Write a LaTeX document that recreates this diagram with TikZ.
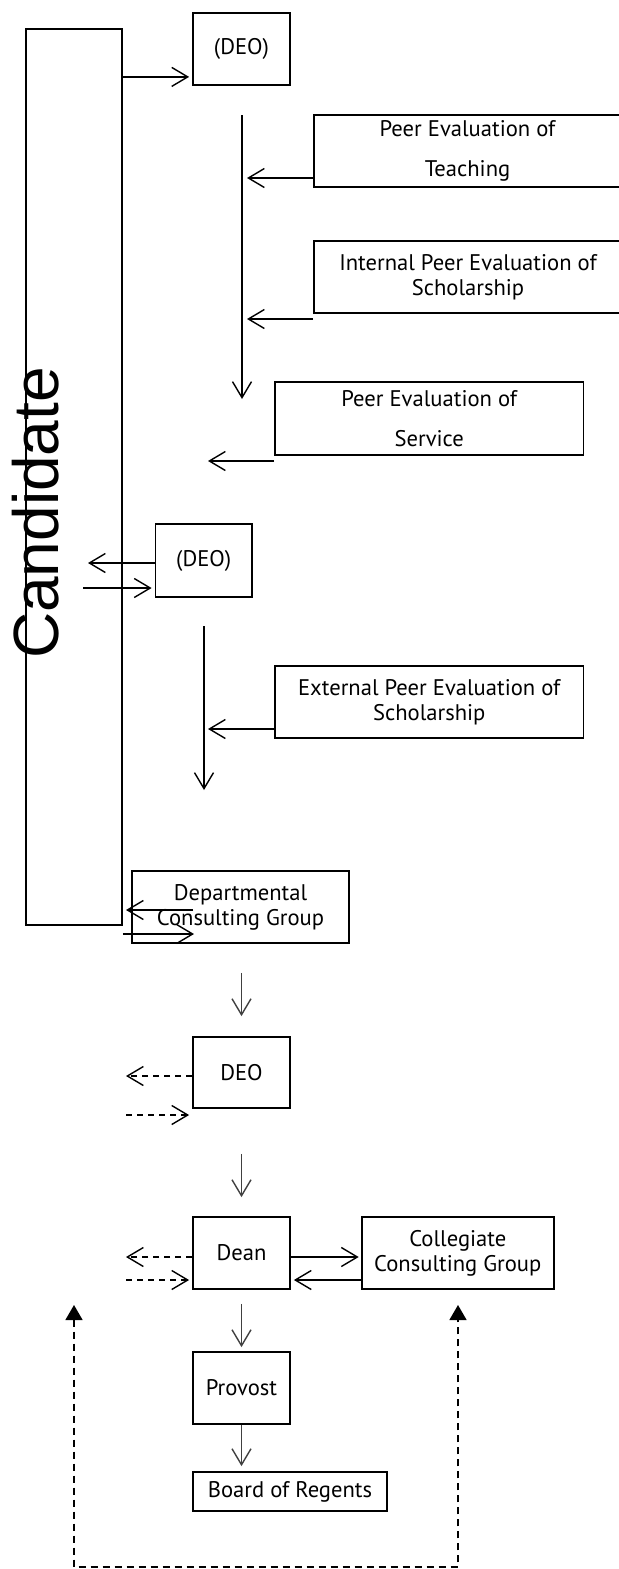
\documentclass[tikz,border=0pt]{standalone}
\usepackage{fontspec}
\setmainfont{PT Sans}
\newfontfamily\candfont{Liberation Sans}
\usetikzlibrary{arrows.meta}

\begin{document}
\begin{tikzpicture}[x=0.5pt, y=-0.5pt,
    box/.style={draw, line width=0.9pt, inner sep=0pt, align=center, font=\fontsize{11.3}{12.5}\selectfont},
    link/.style={line width=0.7pt, -{Straight Barb[length=8pt, width=9.5pt]}},
    greylink/.style={link, draw=black!75},
    dashlink/.style={link, dash pattern=on 3pt off 2.5pt}]
    \useasboundingbox (0,0) rectangle (619,1569);
    % candidate column
    \node[box, minimum width=48pt, minimum height=448pt] (cand) at (74,477) {};
    \node[font=\candfont\fontsize{32}{32}\selectfont, rotate=90, anchor=base] (candtext) at (58,513) {Candidate};
    % boxes
    \node[box, minimum width=48.5pt, minimum height=36pt] (deo1) at (241.5,49) {(DEO)};
    \node[box, minimum width=153.5pt, minimum height=36pt] (teach) at (467.5,151) {Peer Evaluation of\\[7.5pt]Teaching};
    \node[box, minimum width=154pt, minimum height=36pt] (intsch) at (468,277) {Internal Peer Evaluation of\\Scholarship};
    \node[box, minimum width=154.25pt, minimum height=36.5pt] (service) at (429.25,418.5) {Peer Evaluation of\\[7.5pt]Service};
    \node[box, minimum width=48.25pt, minimum height=36.5pt] (deo2) at (203.75,560.5) {(DEO)};
    \node[box, minimum width=154.25pt, minimum height=36pt] (extsch) at (429.25,702) {External Peer Evaluation of\\Scholarship};
    \node[box, minimum width=108.5pt, minimum height=36pt] (dcg) at (240.5,907) {Departmental\\Consulting Group};
    \node[box, minimum width=48.5pt, minimum height=35.5pt] (deo3) at (241.5,1072.5) {DEO};
    \node[box, minimum width=48.5pt, minimum height=36pt] (dean) at (241.5,1253) {Dean};
    \node[box, minimum width=96.2pt, minimum height=36pt] (ccg) at (457.8,1253) {Collegiate\\Consulting Group};
    \node[box, minimum width=48.5pt, minimum height=36pt] (provost) at (241.5,1388) {Provost};
    \node[box, minimum width=97pt, minimum height=19.5pt] (board) at (290,1491.5) {Board of Regents};
    % free ends
    \coordinate (f1top) at (242,115);
    \coordinate (f1end) at (242,399);
    \coordinate (f2top) at (204,626);
    \coordinate (f2end) at (204,790);
    \coordinate (tteach) at (247,178);
    \coordinate (tint) at (247,319);
    \coordinate (tserv) at (208,461);
    \coordinate (tsch) at (208,729);
    \coordinate (c1in) at ([yshift=4.5pt]deo1.south west);
    \coordinate (c2out) at (88,563);
    \coordinate (c2in) at (83,588);
    \coordinate (c3start) at (193,910);
    \coordinate (c3out) at (126,910);
    \coordinate (c3in) at (194,934);
    \coordinate (d3out) at (126,1076);
    \coordinate (d3in) at (126,1115);
    \coordinate (dnout) at (126,1257);
    \coordinate (dnin) at (126,1280);
    \coordinate (loopL) at (74,1305);
    \coordinate (loopR) at (458,1305);
    \coordinate (loopB) at (458,1567);
    % evaluation flow
    \draw[link] (f1top) -- (f1end);
    \draw[link] (f2top) -- (f2end);
    \draw[link] (teach.west |- tteach) -- (tteach);
    \draw[link] (intsch.west |- tint) -- (tint);
    \draw[link] (service.west |- tserv) -- (tserv);
    \draw[link] (extsch.west |- tsch) -- (tsch);
    % candidate exchanges
    \draw[link, shorten >=1.5pt] (cand.east |- c1in) -- (c1in);
    \draw[link] (deo2.west |- c2out) -- (c2out);
    \draw[link, shorten >=1.5pt] (c2in) -- (deo2.west |- c2in);
    \draw[link] (c3start) -- (c3out);
    \draw[link] (cand.east |- c3in) -- (c3in);
    \draw[dashlink] (deo3.west |- d3out) -- (d3out);
    \draw[dashlink, shorten >=1.5pt] (d3in) -- (deo3.west |- d3in);
    \draw[dashlink] (dean.west |- dnout) -- (dnout);
    \draw[dashlink, shorten >=1.5pt] (dnin) -- (dean.west |- dnin);
    % dean and collegiate group
    \draw[link, shorten >=1pt] (dean.east |- dnout) -- (ccg.west |- dnout);
    \draw[link, shorten >=1.5pt] (ccg.west |- dnin) -- (dean.east |- dnin);
    % review chain
    \draw[greylink, shorten <=14.5pt, shorten >=10pt] (dcg.south -| deo3.north) -- (deo3.north);
    \draw[greylink, shorten <=22.5pt, shorten >=9.5pt] (deo3) -- (dean);
    \draw[greylink, shorten <=7pt, shorten >=2pt] (dean) -- (provost);
    \draw[greylink, shorten >=2.5pt] (provost) -- (provost |- board.north);
    % return loop
    \draw[line width=0.7pt, dash pattern=on 3.5pt off 2.5pt,
        {Triangle[length=7.5pt, width=8.5pt]}-{Triangle[length=7.5pt, width=8.5pt]}]
        (loopL) |- (loopB) -- (loopR);
\end{tikzpicture}
\end{document}
